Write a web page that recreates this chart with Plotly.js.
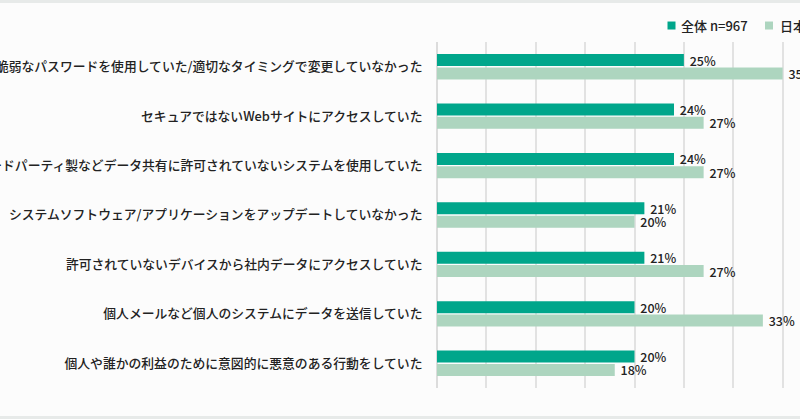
<!DOCTYPE html>
<html>
<head>
<meta charset="utf-8">
<script src="https://cdn.plot.ly/plotly-3.0.1.min.js"></script>
<style>
  html, body { margin: 0; padding: 0; width: 800px; height: 419px; overflow: hidden; background: #fcfcfc; }
  #chart { position: absolute; left: 0; top: 0; width: 900px; height: 419px; }
  .edge { position: absolute; left: 0; width: 800px; background: #e7eae9; }
</style>
</head>
<body>
<div id="chart"></div>
<div class="edge" style="top:0;height:3px;"></div>
<div class="edge" style="top:416px;height:3px;"></div>
<script>
const categories = [
  "脆弱なパスワードを使用していた/適切なタイミングで変更していなかった",
  "セキュアではないWebサイトにアクセスしていた",
  "サードパーティ製などデータ共有に許可されていないシステムを使用していた",
  "システムソフトウェア/アプリケーションをアップデートしていなかった",
  "許可されていないデバイスから社内データにアクセスしていた",
  "個人メールなど個人のシステムにデータを送信していた",
  "個人や誰かの利益のために意図的に悪意のある行動をしていた"
];
const seriesNames = ["全体 n=967", "日本 n=103"];
const globalValues = [25, 24, 24, 21, 21, 20, 20];
const japanValues  = [35, 27, 27, 20, 27, 33, 18];
const colors = ["#00a68b", "#add5bf"];

const FONT = '"Noto Sans CJK JP", "Noto Sans", sans-serif';

function barTrace(vals, i) {
  return {
    type: 'bar',
    orientation: 'h',
    name: seriesNames[i],
    y: categories,
    x: vals,
    marker: { color: colors[i], line: { width: 0 } },
    text: vals.map(v => '\u00a0' + v + '%'),
    textposition: 'outside',
    constraintext: 'none',
    cliponaxis: false,
    textfont: { family: FONT, size: 12.5, color: '#222222', weight: 500 },
    hoverinfo: 'x+y',
    showlegend: false
  };
}

const data = [barTrace(globalValues, 0), barTrace(japanValues, 1)];

// legend geometry (paper coords of plot area)
const plotL = 437, plotR = 832, plotT = 42, plotB = 388.5;
const px = x => (x - plotL) / (plotR - plotL);
const py = y => (plotB - y) / (plotB - plotT);
const legendSym = [671.5, 769];
const legendTxt = [679, 778];
const legendY = 25.5;

const shapes = seriesNames.map((n, i) => ({
  type: 'rect', xref: 'paper', yref: 'paper',
  xsizemode: 'pixel', ysizemode: 'pixel',
  xanchor: px(legendSym[i]), yanchor: py(legendY),
  x0: -4, x1: 4, y0: -4, y1: 4,
  fillcolor: colors[i], line: { width: 0 }
}));
const annotations = seriesNames.map((n, i) => ({
  xref: 'paper', yref: 'paper',
  x: px(legendTxt[i]), y: py(legendY),
  xanchor: 'left', yanchor: 'middle',
  text: n, showarrow: false,
  font: { family: FONT, size: 13, color: '#222222', weight: 500 }
}));

const layout = {
  width: 900, height: 419,
  margin: { l: 437, r: 900 - 832, t: 42, b: 419 - 388.5, pad: 0 },
  paper_bgcolor: 'rgba(0,0,0,0)',
  plot_bgcolor: 'rgba(0,0,0,0)',
  barmode: 'group',
  bargap: 0.46,
  bargroupgap: 0.1,
  showlegend: false,
  font: { family: FONT, size: 13, color: '#222222' },
  xaxis: {
    range: [0, 40], dtick: 5, tick0: 0,
    showgrid: true, gridcolor: '#e2e2e2', gridwidth: 2,
    zeroline: true, zerolinecolor: '#dcdcdc', zerolinewidth: 2,
    showticklabels: false, ticks: '', showline: false, fixedrange: true
  },
  yaxis: {
    autorange: 'reversed',
    ticks: 'outside', ticklen: 11, tickcolor: 'rgba(0,0,0,0)',
    tickfont: { family: FONT, size: 12.8, color: '#222222', weight: 500 },
    showgrid: false, showline: false, zeroline: false, fixedrange: true
  },
  shapes: shapes,
  annotations: annotations
};

Plotly.newPlot('chart', data, layout, { displayModeBar: false, staticPlot: true });
</script>
</body>
</html>
